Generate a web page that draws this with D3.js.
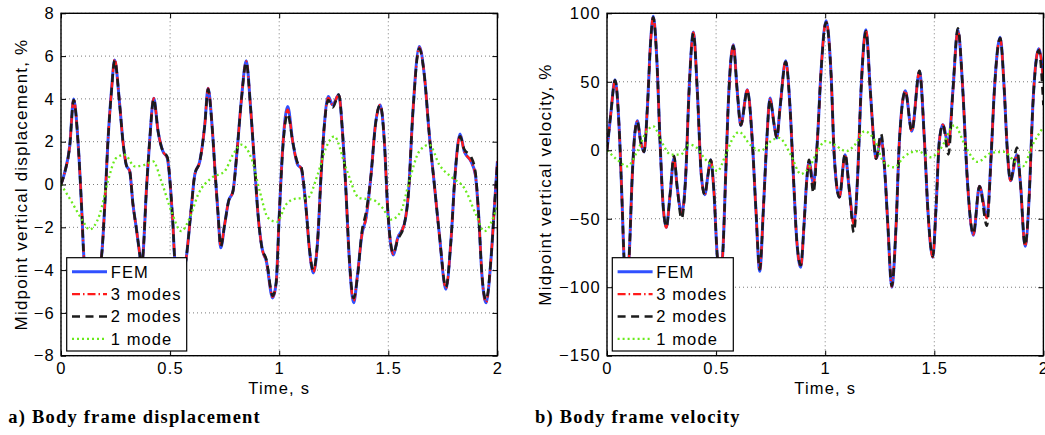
<!DOCTYPE html>
<html>
<head>
<meta charset="utf-8">
<script src="https://cdn.jsdelivr.net/npm/d3@7"></script>
<style>
  body { margin: 0; background: #fff; }
  svg text { font-family: "Liberation Sans", Arial, Helvetica, sans-serif; }
</style>
</head>
<body>
<svg id="chart" width="1045" height="435"></svg>
<script>
// ---- data ----
const timeTicks = [0, 0.5, 1, 1.5, 2];
const dispTicks = [-8, -6, -4, -2, 0, 2, 4, 6, 8];
const velTicks = [-150, -100, -50, 0, 50, 100];
const legendLabels = ["FEM", "3 modes", "2 modes", "1 mode"];

// a) displacement, %
const dispT = [0,0.018,0.04,0.058,0.078,0.096,0.105,0.14,0.185,0.2,
  0.215,0.231,0.246,0.269,0.284,0.299,0.315,0.33,0.345,0.361,
  0.369,0.376,0.391,0.406,0.425,0.445,0.467,0.487,0.503,0.513,
  0.521,0.547,0.574,0.597,0.613,0.636,0.659,0.674,0.692,0.707,
  0.72,0.732,0.75,0.768,0.788,0.808,0.826,0.849,0.869,0.888,
  0.903,0.921,0.941,0.97,0.986,1.0,1.016,1.039,1.062,1.085,
  1.1,1.123,1.138,1.156,1.176,1.192,1.207,1.225,1.245,1.273,
  1.291,1.306,1.321,1.341,1.359,1.379,1.398,1.421,1.441,1.463,
  1.482,1.497,1.523,1.543,1.573,1.593,1.612,1.642,1.665,1.688,
  1.711,1.734,1.764,1.787,1.806,1.829,1.848,1.879,1.899,1.914,
  1.929,1.948,1.971,1.986,2.0];
const dispFEM = [0,0.6,1.8,4.0,2.0,-1.4,-3.4,-5.2,-3.43,-1.1,
  2.0,4.35,5.82,3.72,2.0,0.92,0.62,-0.94,-2.03,-3.27,
  -3.9,-3.27,-0.32,2.0,4.03,2.48,1.55,1.24,-0.32,-1.87,
  -3.43,-4.6,-3.43,-1.1,0.46,1.08,2.79,4.5,2.79,0.46,
  -1.41,-2.96,-1.87,-0.78,-0.32,1.7,3.88,5.78,3.57,0.77,
  -1.41,-2.96,-3.58,-5.3,-4.6,-1.5,1.7,3.65,2.0,0.92,
  0.77,-1.1,-2.96,-4.13,-2.65,0.46,2.79,4.11,3.72,4.19,
  2.32,-0.32,-3.43,-5.53,-4.21,-2.34,-1.56,0.46,2.79,3.72,
  2.0,-1.1,-3.3,-2.5,-1.87,-0.32,3.26,6.45,5.12,2.32,
  0.0,-2.34,-4.9,-2.65,0.46,2.36,1.55,1.08,0.46,-1.41,
  -4.21,-5.53,-3.43,-1.1,1.08];
const disp3 = [0,0.6,1.8,4.0,2.0,-1.4,-3.4,-5.2,-3.43,-1.1,
  2.0,4.3,5.85,3.72,2.0,0.92,0.62,-0.94,-2.03,-3.27,
  -3.9,-3.27,-0.32,2.0,4.03,2.48,1.55,1.24,-0.32,-1.87,
  -3.43,-4.6,-3.43,-1.1,0.46,1.08,2.79,4.5,2.79,0.46,
  -1.41,-2.9,-1.87,-0.78,-0.32,1.7,3.88,5.75,3.57,0.77,
  -1.41,-2.96,-3.58,-5.25,-4.6,-1.5,1.7,3.5,2.0,0.92,
  0.77,-1.1,-2.96,-4.1,-2.65,0.46,2.79,4.05,3.72,4.19,
  2.32,-0.32,-3.43,-5.45,-4.21,-2.34,-1.56,0.46,2.79,3.72,
  2.0,-1.1,-3.25,-2.5,-1.87,-0.32,3.26,6.4,5.12,2.32,
  0.0,-2.34,-4.85,-2.65,0.46,2.3,1.55,1.08,0.46,-1.41,
  -4.21,-5.5,-3.43,-1.1,1.08];
const disp2 = [0,0.6,1.8,3.95,2.0,-1.4,-3.4,-5.2,-3.43,-1.1,
  2.0,4.3,5.8,3.72,2.0,0.92,0.62,-0.94,-2.03,-3.27,
  -3.9,-3.27,-0.32,2.0,4.0,2.48,1.55,1.3,-0.32,-1.87,
  -3.43,-4.6,-3.43,-1.1,0.46,1.08,2.79,4.45,2.79,0.46,
  -1.41,-2.9,-1.87,-0.78,-0.32,1.7,3.88,5.7,3.57,0.77,
  -1.41,-2.96,-3.5,-5.2,-4.6,-1.5,1.6,3.3,2.0,1.0,
  0.85,-1.1,-2.96,-4.0,-2.65,0.46,2.79,3.95,3.6,4.2,
  2.32,-0.32,-3.43,-5.3,-4.3,-2.2,-1.3,0.46,2.79,3.72,
  2.0,-1.1,-3.2,-2.6,-1.87,-0.32,3.26,6.35,5.12,2.32,
  0.0,-2.34,-4.8,-2.65,0.46,2.25,1.65,1.3,0.6,-1.41,
  -4.21,-5.4,-3.43,-1.1,1.0];
const disp1T = [0,0.047,0.101,0.13,0.177,0.215,0.253,0.292,0.338,0.383,
  0.422,0.46,0.506,0.551,0.59,0.628,0.689,0.75,0.788,0.826,
  0.872,0.911,0.949,0.99,1.031,1.077,1.13,1.176,1.214,1.252,
  1.306,1.367,1.428,1.474,1.512,1.558,1.596,1.642,1.688,1.734,
  1.795,1.848,1.902,1.94,2.0];
const disp1 = [0,-0.78,-1.72,-2.1,-1.41,0.15,1.24,1.39,0.85,0.92,
  1.08,0.15,-1.25,-2.18,-1.56,-0.48,0.30,0.62,1.39,1.86,
  1.24,-0.32,-1.56,-1.75,-0.94,-0.66,-0.63,0.46,1.7,2.25,
  0.77,-0.63,-0.71,-1.1,-1.64,-1.25,0.15,1.55,1.86,0.92,
  0.30,-0.16,-1.41,-2.18,-1.0];

// b) velocity, %
const velT = [0,0.017,0.037,0.055,0.07,0.078,0.089,0.101,0.116,0.127,
  0.139,0.154,0.17,0.185,0.2,0.212,0.228,0.243,0.258,0.272,
  0.289,0.307,0.322,0.342,0.361,0.376,0.396,0.414,0.432,0.448,
  0.463,0.475,0.49,0.506,0.517,0.529,0.544,0.555,0.579,0.597,
  0.613,0.643,0.666,0.682,0.7,0.717,0.732,0.747,0.766,0.778,
  0.793,0.819,0.839,0.854,0.87,0.888,0.903,0.915,0.926,0.946,
  0.964,0.98,1.004,1.027,1.042,1.065,1.091,1.111,1.131,1.149,
  1.164,1.187,1.207,1.223,1.233,1.256,1.274,1.287,1.305,1.325,
  1.34,1.367,1.397,1.432,1.455,1.47,1.493,1.508,1.523,1.539,
  1.565,1.585,1.608,1.631,1.65,1.679,1.707,1.741,1.76,1.775,
  1.802,1.821,1.834,1.849,1.879,1.894,1.916,1.936,1.951,1.979,
  2.0];
const velFEM = [0,26,51.5,18.7,-42,-78.6,-95,-78.6,-17.8,11.4,
  21.6,6.6,-1.2,30.9,79.6,97.8,67.4,6.6,-42,-56.2,
  -32.4,-5.6,-27.5,-45.8,-17.8,43,86.3,43,-17.8,-32.4,
  -17.8,-6.9,-29.9,-78.6,-88,-78.6,-17.8,30.9,77.1,43,
  18.2,44.2,6.6,-42,-88.3,-42,6.6,38.2,18.7,9.0,
  30.9,65.4,30.9,-17.8,-66.4,-85.4,-54.3,-22.6,-8.5,-23.9,
  6.6,55.2,94.6,55.2,-5.6,-34.3,-3.2,-29.9,-53.1,-17.8,
  43,88,43,6.6,-6.1,8.5,-17.8,-54.3,-100,-54.3,
  6.6,43.5,13.9,57.7,6.6,-42,-78.1,-42,6.6,18.7,
  4.1,43,88,43,-17.8,-62,-26.3,-48.9,-5.6,43,
  82.5,43,1.7,-22.2,-3.2,-22.6,-70.1,-29.9,30.9,74.2,
  52];
const vel3 = [0,26,51,18.7,-42,-78.6,-95,-78.6,-17.8,11.4,
  21,6.6,-1.2,30.9,79.6,97.5,67.4,6.6,-42,-56.5,
  -32.4,-5.6,-27.5,-46.5,-17.8,43,86,43,-17.8,-32.4,
  -17.8,-6.9,-29.9,-78.6,-88,-78.6,-17.8,30.9,76.5,43,
  18.2,44,6.6,-42,-87.5,-42,6.6,37.5,18.7,9.0,
  30.9,65,30.9,-17.8,-66.4,-85,-54.3,-22.6,-8.5,-24.5,
  6.6,55.2,94,55.2,-5.6,-34.3,-3.2,-29.9,-54,-17.8,
  43,87.5,43,6.6,-6.1,8.5,-17.8,-54.3,-99.5,-54.3,
  6.6,43.5,13.9,57.5,6.6,-42,-78,-42,6.6,18.7,
  4.1,43,87.5,43,-17.8,-61.5,-26.3,-49.5,-5.6,43,
  82,43,1.7,-22.2,-3.2,-22.6,-70,-29.9,30.9,74,
  50];
const vel2 = [0,26,51,18.7,-42,-78.6,-95,-78.6,-17.8,11.4,
  21,6.6,-1.2,30.9,79.6,97,67.4,6.6,-42,-56,
  -32.4,-4,-27.5,-50,-17.8,43,85.5,43,-17.8,-32.4,
  -17.8,-6.9,-29.9,-78.6,-88,-78.6,-17.8,30.9,76,43,
  18.2,43.5,6.6,-42,-87,-42,6.6,37,18.7,9.0,
  30.9,64.5,30.9,-17.8,-66.4,-84,-54.3,-22.6,-7,-31,
  6.6,55.2,93.5,55.2,-5.6,-34.3,-2.5,-29.9,-60,-17.8,
  43,87,43,6.6,-6.1,12,-17.8,-54.3,-99,-54.3,
  6.6,43,13.9,58,6.6,-42,-77.5,-42,6.6,18.7,
  -3,43,89,43,-17.8,-61,-26.3,-55,-5.6,43,
  82,43,1.7,-22.2,2,-22.6,-69.5,-29.9,30.9,73,
  33];
const vel1T = [0,0.047,0.093,0.139,0.177,0.212,0.253,0.292,0.338,0.376,
  0.41,0.445,0.475,0.506,0.544,0.582,0.605,0.659,0.705,0.75,
  0.788,0.842,0.888,0.934,0.972,1.0,1.042,1.096,1.134,1.18,
  1.225,1.271,1.317,1.363,1.424,1.485,1.531,1.592,1.646,1.699,
  1.76,1.821,1.867,1.906,1.951,2.0];
const vel1 = [0,-6.9,-11.7,-0.7,12.6,17.5,5.3,-3.2,-3.2,4.1,
  2,-5.6,-10.5,-15.3,-3.2,10.2,13.4,3.6,-0.3,6.6,
  9,-3.2,-17.3,-10.5,1.7,6.6,4.1,-0.7,3.6,13.9,
  7.7,-9.3,-12.4,-4.4,-0.7,-5.1,1.7,18.2,1.7,-8.5,
  -2,-1.2,-8,-11.7,4.1,17];

// ---- styles ----
const styles = [
  { color: "#3050ff", width: 3.0, dash: null },
  { color: "#ff1a1a", width: 2.4, dash: "8,3,1.5,3" },
  { color: "#1c1c1c", width: 2.6, dash: "8,5.5" },
  { color: "#6aea1c", width: 2.3, dash: "2,3" }
];

const svg = d3.select("#chart");
const fmt = d3.format("~g");
const W = 436.4, H = 342.4, TOP = 13.3;

function panel(opt) {
  const x = d3.scaleLinear().domain([0, 2]).range([0, W]);
  const y = d3.scaleLinear().domain(opt.yDomain).range([H, 0]);
  const g = svg.append("g").attr("transform", `translate(${opt.left},${TOP})`);

  g.append("clipPath").attr("id", opt.id + "clip")
    .append("rect").attr("width", W).attr("height", H);

  // dotted grid
  g.selectAll(".gx").data(timeTicks).join("line")
    .attr("x1", d => x(d)).attr("x2", d => x(d))
    .attr("y1", 0).attr("y2", H)
    .attr("stroke", "#7a7a7a").attr("stroke-width", 1).attr("stroke-dasharray", "1,3");
  g.selectAll(".gy").data(opt.yTicks).join("line")
    .attr("x1", 0).attr("x2", W)
    .attr("y1", d => y(d)).attr("y2", d => y(d))
    .attr("stroke", "#7a7a7a").attr("stroke-width", 1).attr("stroke-dasharray", "1,3");

  // curves
  const line = d3.line().x(d => x(d[0])).y(d => y(d[1])).curve(d3.curveMonotoneX);
  const plot = g.append("g").attr("clip-path", `url(#${opt.id}clip)`);
  opt.series.forEach((s, i) => {
    const pts = s.t.map((t, k) => [t, s.v[k]]);
    plot.append("path").datum(pts)
      .attr("d", line)
      .attr("fill", "none")
      .attr("stroke", styles[i].color)
      .attr("stroke-width", styles[i].width)
      .attr("stroke-dasharray", styles[i].dash)
      .attr("stroke-linejoin", "round");
  });

  // axes with inward ticks on all sides
  const ax = [
    g.append("g").attr("transform", `translate(0,${H})`)
      .call(d3.axisBottom(x).tickValues(timeTicks).tickFormat(fmt).tickSize(-5).tickPadding(7)),
    g.append("g")
      .call(d3.axisTop(x).tickValues(timeTicks).tickFormat("").tickSize(-5)),
    g.append("g")
      .call(d3.axisLeft(y).tickValues(opt.yTicks).tickFormat(fmt).tickSize(-5).tickPadding(6)),
    g.append("g").attr("transform", `translate(${W},0)`)
      .call(d3.axisRight(y).tickValues(opt.yTicks).tickFormat("").tickSize(-5))
  ];
  ax.forEach(a => {
    a.select(".domain").remove();
    a.selectAll("line").attr("stroke", "#000");
    a.selectAll("text").attr("font-size", 16.5).attr("fill", "#000")
      .style("font-family", '"Liberation Sans", Arial, sans-serif')
      .style("letter-spacing", "1.2px");
  });

  g.append("rect").attr("width", W).attr("height", H)
    .attr("fill", "none").attr("stroke", "#000").attr("stroke-width", 1.4);

  // legend
  const lg = g.append("g").attr("transform", `translate(${opt.legX},244.4)`);
  lg.append("rect").attr("width", opt.legW).attr("height", 93.3)
    .attr("fill", "#fff").attr("stroke", "#000").attr("stroke-width", 1.2);
  legendLabels.forEach((lab, i) => {
    const yy = 14 + i * 22.4;
    lg.append("line").attr("x1", 5.3).attr("x2", 40.3).attr("y1", yy).attr("y2", yy)
      .attr("stroke", styles[i].color).attr("stroke-width", styles[i].width)
      .attr("stroke-dasharray", styles[i].dash);
    lg.append("text").attr("x", 44).attr("y", yy).attr("dy", "0.36em")
      .attr("font-size", 16.5).style("letter-spacing", "1.1px").text(lab);
  });

  // axis titles
  g.append("text").attr("x", W / 2).attr("y", 394 - TOP)
    .attr("text-anchor", "middle").attr("font-size", 16.5)
    .style("letter-spacing", "1.2px").text("Time, s");
  svg.append("text")
    .attr("transform", `translate(${opt.ylabX},${TOP + H / 2}) rotate(-90)`)
    .attr("text-anchor", "middle").attr("font-size", 17)
    .style("letter-spacing", "1.2px").text(opt.ylabel);

  // caption
  svg.append("text").attr("x", opt.capX).attr("y", 423.3)
    .attr("font-size", 18.5).attr("font-weight", "bold")
    .style("font-family", '"Liberation Serif", "Times New Roman", serif')
    .style("letter-spacing", "1.2px").text(opt.caption);
}

panel({
  id: "a", left: 61, yDomain: [-8, 8], yTicks: dispTicks,
  ylabel: "Midpoint vertical displacement, %", ylabX: 26.5,
  caption: "a) Body frame displacement", capX: 8.3,
  legX: 5.7, legW: 120,
  series: [
    { t: dispT, v: dispFEM }, { t: dispT, v: disp3 },
    { t: dispT, v: disp2 }, { t: disp1T, v: disp1 }
  ]
});

panel({
  id: "b", left: 607, yDomain: [-150, 100], yTicks: velTicks,
  ylabel: "Midpoint vertical velocity, %", ylabX: 550.5,
  caption: "b) Body frame velocity", capX: 535,
  legX: 5.3, legW: 121,
  series: [
    { t: velT, v: velFEM }, { t: velT, v: vel3 },
    { t: velT, v: vel2 }, { t: vel1T, v: vel1 }
  ]
});
</script>
</body>
</html>
